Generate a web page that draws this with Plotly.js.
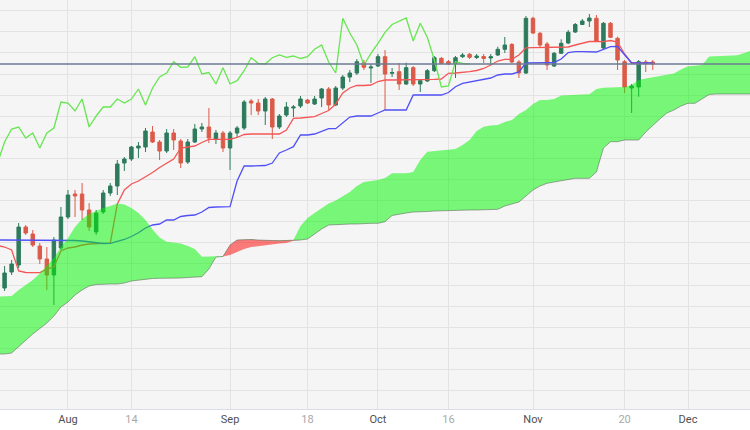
<!DOCTYPE html>
<html>
<head>
<meta charset="utf-8">
<script src="https://cdn.plot.ly/plotly-3.0.1.min.js"></script>
<style>
html,body{margin:0;padding:0;background:#ffffff;}
#chart{width:750px;height:430px;}
</style>
</head>
<body>
<div id="chart"></div>
<script>
// Daily candles, one per weekday, index 0 = 2023-07-19 (arbitrary price units)
const openP = [
171.2,172.8,173.5,177.3,176.6,175.4,174.1,172.5,175.2,178.3,
180.6,180.6,179.0,176.8,178.8,180.7,181.4,183.7,184.1,185.2,
185.3,186.8,185.8,184.9,186.7,185.9,183.8,185.8,187.1,187.3,
186.1,186.7,185.2,186.7,187.2,189.9,189.7,188.9,190.1,187.3,
188.5,189.2,189.4,190.0,189.6,190.2,191.1,189.5,191.2,192.3,
192.7,193.73,193.2,193.4,194.33,192.67,192.83,191.6,193.23,191.6,
191.9,192.93,194.17,193.83,193.67,194.33,194.57,194.25,194.35,194.2,
194.5,195.07,195.55,193.8,192.7,198.17,196.67,195.6,193.4,194.67,
195.7,196.8,197.55,197.9,198.17,195.2,197.67,196.17,193.83,191.2,
191.3,193.8,193.8];
const highP = [
173.4,174.0,177.7,177.5,177.0,175.7,175.3,176.3,179.3,181.0,
181.0,181.7,179.7,179.0,181.0,181.7,184.0,184.3,185.4,185.8,
187.2,187.4,186.0,187.1,187.1,186.1,186.1,187.6,187.7,189.2,
187.0,186.9,186.9,187.4,190.0,190.1,190.1,190.3,190.2,188.6,
189.8,189.5,190.4,190.1,190.4,191.2,191.3,191.4,192.5,193.0,
194.1,194.0,193.6,194.6,195.0,193.2,193.7,193.73,193.4,192.1,
193.1,194.4,194.3,194.0,194.4,194.7,194.7,194.6,194.6,194.6,
195.33,196.3,195.7,194.0,198.4,198.33,196.8,195.8,194.8,196.07,
197.0,197.7,198.1,198.6,198.5,197.8,197.8,196.33,194.0,191.6,
194.0,194.0,194.0];
const lowP = [
170.9,172.5,173.2,176.5,175.3,173.6,171.0,169.5,175.0,178.1,
178.3,178.0,176.9,176.5,178.6,180.4,180.5,182.9,183.9,184.2,
184.8,185.7,184.0,184.7,185.0,183.2,183.6,185.7,186.8,185.7,
185.6,184.8,183.0,186.3,187.0,188.5,188.5,187.5,186.1,187.1,
188.3,188.3,189.2,189.6,189.5,189.3,189.0,189.4,191.0,191.8,
192.5,193.0,191.7,193.3,189.0,192.3,191.0,191.5,191.4,190.8,
191.8,192.8,193.6,193.5,192.2,194.2,194.1,194.1,193.7,193.5,
194.4,194.7,193.7,192.2,192.6,196.6,195.2,193.0,193.3,194.6,
195.6,196.7,197.5,197.3,195.8,195.1,196.2,193.0,190.7,188.7,
190.33,192.8,193.0];
const closeP = [
172.7,173.6,177.3,176.7,175.5,174.1,172.5,176.0,178.3,180.5,
180.4,179.0,177.3,178.7,180.7,181.4,183.6,184.1,185.3,185.4,
186.9,185.8,184.9,186.7,186.0,183.7,185.8,187.1,187.3,186.2,
186.7,185.2,186.7,187.2,189.8,189.7,188.9,190.1,187.3,188.4,
189.3,189.3,190.1,189.7,190.1,191.1,189.5,191.2,192.3,192.7,
193.83,193.27,193.3,194.33,192.6,192.75,191.6,193.23,191.6,191.93,
192.93,194.23,193.67,193.6,194.23,194.5,194.27,194.4,194.15,194.33,
195.07,195.5,193.8,192.7,198.17,196.7,195.5,193.5,194.67,195.67,
196.77,197.55,197.9,198.2,195.9,197.67,196.27,194.0,191.3,191.4,
193.83,193.65,193.6];

// Tenkan-sen / Kijun-sen, starting one day before the first visible candle (index -1)
const LINE_START = -1;
const tenkan = [
175.45,175.3,175.0,172.9,172.75,172.73,172.73,173.1,173.3,174.9,175.2,
175.3,175.5,175.6,175.65,175.67,175.67,179.6,181.0,181.6,181.9,
182.3,182.75,183.25,183.7,184.1,185.2,185.3,185.4,185.75,186.07,
186.07,186.07,186.07,186.25,186.55,186.6,186.6,186.6,186.6,186.6,
187.0,188.17,188.2,188.25,188.33,188.65,188.95,189.6,190.7,191.2,
191.45,191.45,191.5,191.85,192.0,192.0,192.0,192.07,192.07,192.07,
192.07,192.07,192.1,192.67,192.7,192.73,192.83,192.95,193.15,193.5,
193.9,194.07,194.07,194.5,195.22,195.23,195.23,195.23,195.23,195.23,
195.3,195.5,195.7,195.85,195.85,195.83,195.95,195.8,194.6,193.7,
193.7,193.7,193.7];
const kijun = [
176.0,176.0,176.0,176.0,176.0,176.0,176.0,176.0,176.0,176.0,176.0,
175.95,175.9,175.8,175.7,175.65,175.67,175.83,176.05,176.35,176.73,
177.2,177.5,177.6,178.0,178.0,178.35,178.45,178.5,178.8,179.25,
179.3,179.3,179.33,181.9,183.4,183.4,183.4,183.45,183.7,184.7,
185.0,185.33,186.5,186.5,186.6,186.9,187.13,187.13,187.7,188.3,
188.4,188.4,188.4,188.7,189.0,189.0,189.0,189.0,190.5,190.5,
190.5,190.5,190.5,190.75,191.33,191.67,191.8,192.0,192.1,192.2,
192.5,192.6,192.6,192.8,193.7,193.73,193.73,193.73,193.73,194.1,
194.75,194.83,194.83,194.83,194.8,195.07,195.33,195.35,194.5,193.7,
193.7,193.7,193.7];

// Senkou span A / B (already displaced forward), starting at index -1
const CLOUD_START = -1;
const senkouA = [
170.33,170.35,170.4,171.0,171.5,172.0,172.65,173.4,174.2,175.3,176.2,
177.3,178.1,178.6,178.9,179.2,179.4,179.65,179.55,179.2,178.7,
178.0,177.05,176.25,175.83,175.75,175.65,175.4,175.1,174.33,174.33,
174.35,174.4,174.5,174.8,175.1,175.3,175.4,175.5,175.6,175.65,
175.7,176.0,177.4,178.2,178.7,179.2,179.65,179.95,180.4,180.8,
181.4,181.8,181.9,182.0,182.2,182.67,182.67,182.67,182.8,184.0,
184.83,184.9,184.95,185.0,185.1,185.5,186.0,186.9,187.33,187.45,
187.5,187.8,188.0,188.6,189.0,189.6,190.0,190.0,190.1,190.45,
190.5,190.53,190.55,190.57,191.1,191.23,191.25,191.27,191.3,191.5,
192.0,192.15,192.27,192.37,192.5,192.65,193.05,193.37,193.43,193.5,
194.35,194.37,194.4,194.43,194.47,194.7,194.95];
const senkouB = [
164.6,164.6,164.7,165.35,166.0,166.6,167.15,167.7,168.4,169.3,169.8,
170.5,171.0,171.4,171.55,171.6,171.6,171.6,171.7,171.9,172.0,
172.1,172.15,172.17,172.17,172.17,172.2,172.25,172.3,172.33,173.1,
174.3,174.35,175.5,176.0,176.05,176.05,176.0,175.95,175.95,175.93,
175.93,175.93,176.0,176.1,176.6,177.1,177.5,177.55,177.6,177.6,
177.6,177.65,177.67,177.67,177.83,178.45,178.6,178.7,178.8,178.8,
178.85,178.9,178.93,178.95,178.97,178.98,179.0,179.0,179.0,179.05,
179.07,179.4,179.6,179.8,180.4,181.0,181.4,181.67,181.8,181.9,
182.05,182.17,182.17,182.17,182.8,185.2,185.83,185.83,186.0,186.0,
186.0,186.8,187.5,188.1,188.7,189.0,189.4,189.67,189.67,190.1,
190.55,190.6,190.6,190.6,190.6,190.6,190.6];

const CHIKOU_SHIFT = 26;
const tickIdx = [9, 18, 32, 43, 53, 63, 75, 88, 97];
const tickLabels = ['Aug', '14', 'Sep', '18', 'Oct', '16', 'Nov', '20', 'Dec'];
const monthLabels = ['Aug', 'Sep', 'Oct', 'Nov', 'Dec'];

// ---- build traces ----
const candleX = closeP.map((_, i) => i);
const lineX = tenkan.map((_, i) => i + LINE_START);
const cloudX = senkouA.map((_, i) => i + CLOUD_START);
const chikouX = closeP.map((_, i) => i - CHIKOU_SHIFT);
const greenUpper = senkouA.map((a, i) => Math.max(a, senkouB[i]));
const redLower = senkouA.map((a, i) => Math.min(a, senkouB[i]));

const GREEN_FILL = 'rgba(0,247,0,0.51)';
const RED_FILL = 'rgba(255,0,0,0.5)';

const traces = [
  {
    type: 'candlestick', x: candleX, open: openP, high: highP, low: lowP, close: closeP,
    increasing: {line: {color: '#2d7b5c', width: 1}, fillcolor: '#2d7b5c'},
    decreasing: {line: {color: '#dc5a48', width: 1}, fillcolor: '#dc5a48'},
    whiskerwidth: 0, hoverinfo: 'skip'
  },
  {type: 'scatter', mode: 'lines', x: lineX, y: tenkan, line: {color: '#f45656', width: 1.3}, hoverinfo: 'skip'},
  {type: 'scatter', mode: 'lines', x: lineX, y: kijun, line: {color: '#5050f6', width: 1.3}, hoverinfo: 'skip'},
  {type: 'scatter', mode: 'lines', x: chikouX, y: closeP, line: {color: '#66e650', width: 1.3}, hoverinfo: 'skip'},
  {type: 'scatter', mode: 'lines', x: cloudX, y: senkouB, line: {width: 0, color: 'rgba(0,0,0,0)'}, hoverinfo: 'skip'},
  {type: 'scatter', mode: 'lines', x: cloudX, y: greenUpper, fill: 'tonexty', fillcolor: GREEN_FILL, line: {width: 0, color: 'rgba(0,0,0,0)'}, hoverinfo: 'skip'},
  {type: 'scatter', mode: 'lines', x: cloudX, y: redLower, line: {width: 0, color: 'rgba(0,0,0,0)'}, hoverinfo: 'skip'},
  {type: 'scatter', mode: 'lines', x: cloudX, y: senkouB, fill: 'tonexty', fillcolor: RED_FILL, line: {width: 0, color: 'rgba(0,0,0,0)'}, hoverinfo: 'skip'},
  {type: 'scatter', mode: 'lines', x: cloudX, y: senkouB, line: {color: 'rgba(90,100,90,0.55)', width: 1}, hoverinfo: 'skip'}
];

const tickText = tickLabels.map(t => monthLabels.includes(t)
  ? '<span style="color:#505050">' + t + '</span>'
  : '<span style="color:#a9a9a9">' + t + '</span>');

const lastClose = closeP[closeP.length - 1];

const layout = {
  width: 750, height: 430,
  margin: {l: 0, r: 0, t: 0, b: 21, pad: 0},
  paper_bgcolor: '#ffffff',
  plot_bgcolor: '#f5f5f5',
  showlegend: false,
  font: {family: '"Liberation Sans Narrow", "Roboto", sans-serif', size: 11, color: '#666'},
  xaxis: {
    range: [-0.65, 105.8],
    tickmode: 'array', tickvals: tickIdx, ticktext: tickText,
    showgrid: true, gridcolor: '#e3e3e3', gridwidth: 1,
    zeroline: false, showline: true, linecolor: '#dcdce8', linewidth: 1,
    ticks: '', rangeslider: {visible: false}, fixedrange: true,
    tickfont: {family: '"Liberation Sans Narrow", "Roboto", sans-serif', size: 11}
  },
  yaxis: {
    range: [159.1, 200],
    tickmode: 'linear', tick0: 198.93, dtick: 2.11,
    showticklabels: false, showgrid: true, gridcolor: '#e3e3e3', gridwidth: 1,
    zeroline: false, showline: false, ticks: '', fixedrange: true
  },
  shapes: [{
    type: 'line', xref: 'paper', yref: 'y', x0: 0, x1: 1, y0: lastClose, y1: lastClose,
    line: {color: '#6d7a93', width: 1.6}, layer: 'above'
  }]
};

Plotly.newPlot('chart', traces, layout, {displayModeBar: false, staticPlot: true});
</script>
</body>
</html>
